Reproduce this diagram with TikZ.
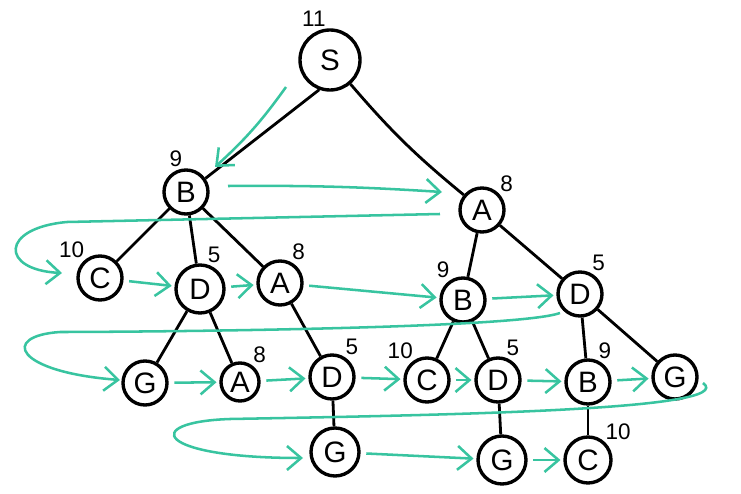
\documentclass[tikz,border=0pt]{standalone}
\usepackage{fontspec}
\setmainfont{Liberation Sans}
\usetikzlibrary{arrows.meta}
\definecolor{bfsteal}{RGB}{56,196,160}
\tikzset{
  tnode/.style={draw, circle, line width=2.4pt, minimum size=1.1cm, inner sep=0pt,
    font=\fontsize{21}{24}\selectfont, label distance=-1pt},
  cost/.style={font=\fontsize{16}{19}\selectfont, inner sep=1pt},
  every label/.style={cost},
  edge/.style={line width=2pt},
  bfs/.style={-{Straight Barb[length=10pt, width=17pt]}, draw=bfsteal, line width=1.8pt},
  hop/.style={bfs, shorten <=4pt, shorten >=2pt},
}

\begin{document}
\begin{tikzpicture}
    \useasboundingbox (0,0) rectangle (18.525,12.35);
    % search tree
    \node[tnode, minimum size=1.5cm, label=95:11] (s) at (8.25,10.85) {S};
    \node[tnode, label=95:9] (b) at (4.65,7.55) {B};
    \node[tnode, label=45:8] (a) at (12.05,7.10) {A};
    \node[tnode, label=127:10] (bc) at (2.50,5.40) {C};
    \node[tnode, minimum size=1.2cm, label=76:5] (bd) at (5.00,5.125) {D};
    \node[tnode, label=63:8] (ba) at (7.00,5.275) {A};
    \node[tnode, label=120:9] (ab) at (11.575,4.85) {B};
    \node[tnode, label=63:5] (ad) at (14.50,5.00) {D};
    \node[tnode, label=56:8, minimum size=0.95cm] (bda) at (6.00,2.80) {A};
    \node[tnode] (bdg) at (3.625,2.775) {G};
    \node[tnode, label=60:5] (bad) at (8.30,2.925) {D};
    \node[tnode, label=122:10] (abc) at (10.675,2.85) {C};
    \node[tnode, label=73:5] (abd) at (12.45,2.85) {D};
    \node[tnode, label=68:9] (adb) at (14.70,2.80) {B};
    \node[tnode] (adg) at (16.875,2.925) {G};
    \node[tnode, minimum size=1.2cm] (badg) at (8.375,1.05) {G};
    \node[tnode, minimum size=1.2cm] (abdg) at (12.55,0.85) {G};
    \node[tnode, minimum size=1.15cm, label=50:10] (adbc) at (14.70,0.85) {C};
    \draw[edge] (s.250) -- (b.35);
    \draw[edge] (s) to[bend right=5] (a);
    \draw[edge] (b) -- (bc);
    \draw[edge] (b) -- (bd);
    \draw[edge] (b) -- (ba);
    \draw[edge] (a) -- (ab);
    \draw[edge] (a) -- (ad);
    \draw[edge] (bd) -- (bdg);
    \draw[edge] (bd) -- (bda);
    \draw[edge] (ba) -- (bad);
    \draw[edge] (ab) -- (abc);
    \draw[edge] (ab) -- (abd);
    \draw[edge] (ad) -- (adb);
    \draw[edge] (ad) -- (adg);
    \draw[edge] (bad) -- (badg);
    \draw[edge] (abd) -- (abdg);
    \draw[edge] (adb) -- (adbc);
    % breadth-first order
    \draw[bfs] ([shift={(-1.1,-0.675)}]s.center) to[bend left=6] ([shift={(0.725,0.625)}]b.center);
    \draw[bfs] ([shift={(1.05,0.15)}]b.center) to[bend left=2] ([shift={(-1.0,0.45)}]a.center);
    \draw[bfs] ([shift={(-1.05,-0.1)}]a.center) -- ([shift={(-0.825,1.4)}]bc.center)
      .. controls +(-1.675,-0.15) and +(-1.55,0.075) .. ([shift={(-0.95,0.125)}]bc.center);
    \draw[hop] (bc) -- (bd);
    \draw[hop] (bd) -- (ba);
    \draw[hop] (ba) -- (ab);
    \draw[hop] (ab) -- (ad);
    \draw[bfs] ([shift={(-0.5,-0.475)}]ad.center) to[out=200, in=0, looseness=0.25] ([shift={(-2.125,1.275)}]bdg.center)
      .. controls +(-1.5,-0.1) and +(-2.625,0.2) .. ([shift={(-0.625,0.075)}]bdg.center);
    \draw[hop] (bdg) -- (bda);
    \draw[hop] (bda) -- (bad);
    \draw[hop] (bad) -- (abc);
    \draw[hop] (abc) -- (abd);
    \draw[hop] (abd) -- (adb);
    \draw[hop] (adb) -- (adg);
    \draw[bfs] ([shift={(0.7,-0.15)}]adg.center) .. controls +(0.925,-0.675) and +(5.5,0.1) .. ([shift={(-2.625,0.825)}]badg.center)
      .. controls +(-2.25,-0.075) and +(-3.7,0) .. ([shift={(-0.8,-0.15)}]badg.center);
    \draw[hop] (badg) -- (abdg);
    \draw[hop] (abdg) -- (adbc);
  \end{tikzpicture}
\end{document}
